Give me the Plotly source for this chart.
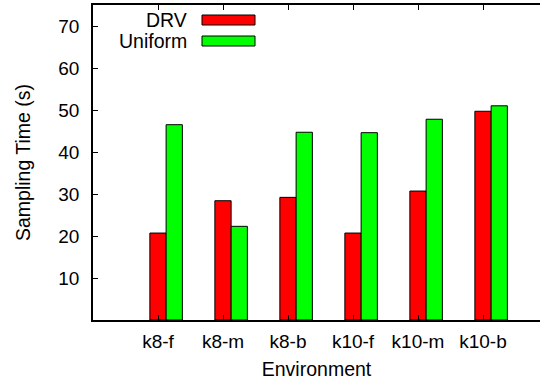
import plotly.graph_objects as go

categories = ["k8-f", "k8-m", "k8-b", "k10-f", "k10-m", "k10-b"]
drv = [20.7, 28.4, 29.2, 20.7, 30.7, 49.7]
uniform = [46.5, 22.3, 44.7, 44.6, 47.8, 51.0]
y_ticks = [10, 20, 30, 40, 50, 60, 70]
series_names = ["DRV", "Uniform"]
series_colors = ["#ff0000", "#00ff00"]

BAR_W = 0.25
FONT = "Liberation Sans, Arial, sans-serif"
FS = 19
FS_T = 19.5

idx = list(range(len(categories)))
fig = go.Figure()
fig.add_trace(go.Bar(x=[i for i in idx], y=drv, width=BAR_W, name=series_names[0],
                     marker=dict(color=series_colors[0], line=dict(color="black", width=1))))
fig.add_trace(go.Bar(x=[i + BAR_W for i in idx], y=uniform, width=BAR_W, name=series_names[1],
                     marker=dict(color=series_colors[1], line=dict(color="black", width=1))))

# plot area in pixels: left 93, right 540, top 5, bottom 320
L, R, T, B = 93, 540, 5, 320
def px(x):
    return (x - L) / (R - L)
def py(y):
    return (B - y) / (B - T)

legend_rows = [20, 41]
for name, color, yc in zip(series_names, series_colors, legend_rows):
    fig.add_annotation(x=px(189), y=py(yc), xref="paper", yref="paper", text=name,
                       showarrow=False, xanchor="right", yanchor="middle",
                       font=dict(family=FONT, size=FS_T, color="black"))
    fig.add_shape(type="rect", xref="paper", yref="paper",
                  x0=px(202), x1=px(255), y0=py(yc - 5), y1=py(yc + 5),
                  fillcolor=color, line=dict(color="black", width=1))

fig.update_layout(
    width=540, height=381,
    margin=dict(l=L, r=540 - R, t=T, b=381 - B),
    paper_bgcolor="white", plot_bgcolor="white",
    showlegend=False, barmode="overlay",
    font=dict(family=FONT, size=FS, color="black"),
    xaxis=dict(range=[-1, 5.877], tickvals=idx, ticktext=categories,
               showline=True, linecolor="black", linewidth=1.5, mirror="ticks",
               ticks="inside", ticklen=5, tickcolor="black", showgrid=False, zeroline=False,
               ticklabelstandoff=3,
               title=dict(text="Environment", standoff=12, font=dict(size=FS_T))),
    yaxis=dict(range=[0, 75], tickvals=y_ticks,
               showline=True, linecolor="black", linewidth=1.5,
               ticks="inside", ticklen=5, tickcolor="black", showgrid=False, zeroline=False,
               ticklabelstandoff=8,
               title=dict(text="Sampling Time (s)", standoff=22, font=dict(size=FS_T))),
)

fig.write_html("out.html", config={"displayModeBar": False},
               post_script="document.body.style.margin='0';document.body.style.overflow='hidden';")
